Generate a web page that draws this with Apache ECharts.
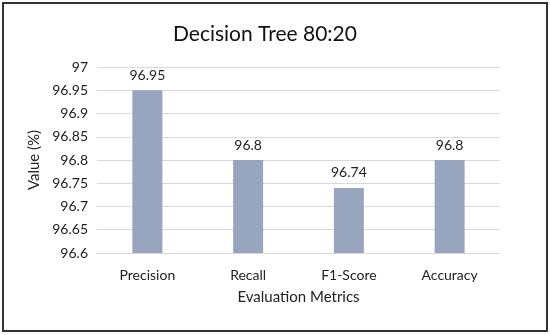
<!DOCTYPE html>
<html><head><meta charset="utf-8">
<script src="https://cdn.jsdelivr.net/npm/echarts@6/dist/echarts.min.js"></script>
<style>html,body{margin:0;padding:0;background:#fff}#c{width:550px;height:335px}</style>
</head><body><div id="c"></div>
<script>
var categories = ["Precision", "Recall", "F1-Score", "Accuracy"];
var values = [96.95, 96.8, 96.74, 96.8];
var chartTitle = "Decision Tree 80:20";
var xName = "Evaluation Metrics";
var yName = "Value (%)";
var font = "Lato";
var chart = echarts.init(document.getElementById('c'));
chart.setOption({
  animation: false,
  backgroundColor: '#fff',
  graphic: [{type: 'rect', shape: {x: 3, y: 3, width: 544, height: 328}, style: {fill: 'none', stroke: '#333', lineWidth: 2}}],
  title: {text: chartTitle, left: 168, top: 19, textStyle: {fontFamily: font, fontSize: 21, fontWeight: 'normal', color: '#111'}},
  grid: {left: 97, right: 50, top: 67, bottom: 82},
  xAxis: {
    type: 'category', data: categories,
    name: xName, nameLocation: 'middle', nameGap: 37,
    nameTextStyle: {fontFamily: font, fontSize: 15, color: '#222'},
    axisLine: {lineStyle: {color: '#d9d9d9', width: 1}},
    axisTick: {show: false},
    axisLabel: {fontFamily: font, fontSize: 14, color: '#222', margin: 15}
  },
  yAxis: {
    type: 'value', min: 96.6, max: 97, interval: 0.05,
    name: yName, nameLocation: 'middle', nameGap: 50, nameRotate: 90,
    nameTextStyle: {fontFamily: font, fontSize: 15, color: '#222'},
    axisLine: {show: false}, axisTick: {show: false},
    splitLine: {lineStyle: {color: '#d9d9d9', width: 1}},
    axisLabel: {fontFamily: font, fontSize: 14, color: '#222', margin: 9,
      formatter: function (v) { return String(+v.toFixed(2)); }}
  },
  series: [{
    type: 'bar', data: values, barWidth: 30,
    itemStyle: {color: '#97A6BE'},
    label: {show: true, position: 'top', distance: 8, fontFamily: font, fontSize: 14, color: '#222'}
  }]
});
</script></body></html>
